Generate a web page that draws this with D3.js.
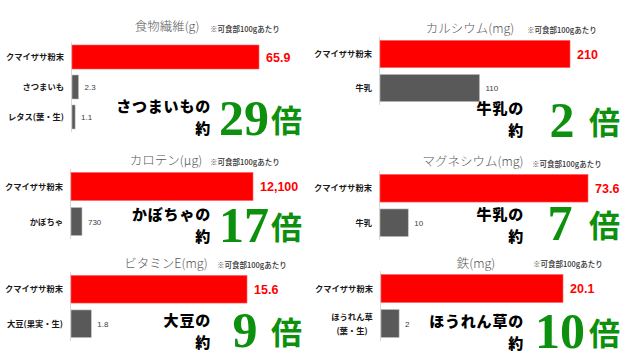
<!DOCTYPE html>
<html><head><meta charset="utf-8">
<script src="https://cdn.jsdelivr.net/npm/d3@7"></script>
<style>
html,body{margin:0;padding:0;background:#fff;}
svg{display:block;}
</style></head>
<body>
<svg id="chart" width="640" height="364"></svg>
<script>
// ---- data ----
const titles = ["食物繊維(g)", "カルシウム(mg)", "カロテン(μg)", "マグネシウム(mg)", "ビタミンE(mg)", "鉄(mg)"];
const categories = [
  ["クマイザサ粉末", "さつまいも", "レタス(葉・生)"],
  ["クマイザサ粉末", "牛乳"],
  ["クマイザサ粉末", "かぼちゃ"],
  ["クマイザサ粉末", "牛乳"],
  ["クマイザサ粉末", "大豆(果実・生)"],
  ["クマイザサ粉末", "ほうれん草\n(葉・生)"]
];
const values = [
  [65.9, 2.3, 1.1],
  [210, 110],
  [12100, 730],
  [73.6, 10],
  [15.6, 1.8],
  [20.1, 2]
];
const compareNames = ["さつまいもの", "牛乳の", "かぼちゃの", "牛乳の", "大豆の", "ほうれん草の"];
const multiples = ["29", "2", "17", "7", "9", "10"];
const noteText = "※可食部100gあたり";
const aboutText = "約";
const timesText = "倍";

// ---- layout (positions only) ----
const layout = [
  {ax:72,  y0:42,  y1:132, w:187, tx:167, ty:31,  nx:210, ny:32,  cx:211, cy:112, numX:244, numY:135, baiX:302},
  {ax:380, y0:37,  y1:105, w:190, tx:470, ty:33,  nx:527, ny:33,  cx:524, cy:114, numX:562, numY:137, baiX:620},
  {ax:71,  y0:169, y1:239, w:182, tx:166, ty:165, nx:210, ny:165, cx:211, cy:220, numX:244, numY:242, baiX:302},
  {ax:380, y0:171, y1:240, w:208, tx:473, ty:166, nx:532, ny:167, cx:524, cy:220, numX:560, numY:240, baiX:620},
  {ax:71,  y0:272, y1:341, w:176, tx:166, ty:268, nx:217, ny:268, cx:211, cy:326, numX:245, numY:347, baiX:302},
  {ax:381, y0:271, y1:341, w:182, tx:476, ty:268, nx:533, ny:267, cx:524, cy:327, numX:560, numY:348, baiX:620}
];

const svg = d3.select("#chart");
const fmt = d3.format(",");
const sans = "'Noto Sans CJK JP','Noto Sans',sans-serif";

layout.forEach((L, i) => {
  const g = svg.append("g");
  const vals = values[i];
  const cats = categories[i];
  const x = d3.scaleLinear().domain([0, d3.max(vals)]).range([L.ax, L.ax + L.w]);
  const y = d3.scaleBand().domain(cats).range([L.y0, L.y1]).paddingInner(0.2).paddingOuter(0.1);

  // title + note
  g.append("text").attr("x", L.tx).attr("y", L.ty).attr("text-anchor", "middle")
    .attr("font-family", sans).attr("font-size", 12.5).attr("font-weight", 300)
    .attr("fill", "#595959").text(titles[i]);
  g.append("text").attr("x", L.nx).attr("y", L.ny)
    .attr("font-family", sans).attr("font-size", 7.5).attr("font-weight", 500)
    .attr("fill", "#333").text(noteText);

  // axis line
  const axis = d3.axisLeft(y).tickSize(2).tickFormat("");
  const ag = g.append("g").attr("transform", `translate(${L.ax - 0.5},0)`).call(axis);
  ag.select(".domain").attr("stroke", "#d9d9d9").attr("d", `M0,${L.y0}V${L.y1}`);
  ag.selectAll(".tick line").attr("stroke", "none");

  // bars
  g.selectAll("rect.bar").data(vals).join("rect")
    .attr("x", x(0)).attr("y", (d, j) => y(cats[j]))
    .attr("width", d => x(d) - x(0)).attr("height", y.bandwidth())
    .attr("fill", (d, j) => j === 0 ? "#ff0000" : "#595959")
    .attr("stroke", (d, j) => j === 0 ? "#ff6060" : "#bfbfbf").attr("stroke-width", 0.6);

  // value labels
  g.selectAll("text.val").data(vals).join("text")
    .attr("x", d => x(d) + (d === vals[0] ? 7 : 6))
    .attr("y", (d, j) => y(cats[j]) + y.bandwidth() / 2 + (j === 0 ? 4.5 : 3))
    .attr("font-family", "'Liberation Sans',Arial,sans-serif")
    .attr("font-size", (d, j) => j === 0 ? 12.5 : 8)
    .attr("font-weight", (d, j) => j === 0 ? "bold" : "normal")
    .attr("fill", (d, j) => j === 0 ? "#ff0000" : "#404040")
    .text(d => fmt(d));

  // category labels
  cats.forEach((c, j) => {
    const lines = c.split("\n");
    const cyMid = y(c) + y.bandwidth() / 2;
    const t = g.append("text").attr("font-family", sans).attr("font-size", 8.3)
      .attr("font-weight", 700).attr("fill", "#1a1a1a");
    if (lines.length === 1) {
      t.attr("x", L.ax - 8).attr("y", cyMid + 3).attr("text-anchor", "end").text(c);
    } else {
      t.attr("text-anchor", "middle");
      lines.forEach((ln, k) => {
        t.append("tspan").attr("x", L.ax - 29).attr("y", cyMid + 3 + (k - (lines.length - 1) / 2) * 14).text(ln);
      });
    }
  });

  // comparison text
  g.append("text").attr("x", L.cx).attr("y", L.cy).attr("text-anchor", "end")
    .attr("font-family", sans).attr("font-size", 15).attr("font-weight", 900)
    .attr("letter-spacing", 0.8).attr("fill", "#000").text(compareNames[i]);
  g.append("text").attr("x", L.cx).attr("y", L.cy + 22).attr("text-anchor", "end")
    .attr("font-family", sans).attr("font-size", 15).attr("font-weight", 900)
    .attr("letter-spacing", 0.8).attr("fill", "#000").text(aboutText);

  g.append("text").attr("x", L.numX).attr("y", L.numY).attr("text-anchor", "middle")
    .attr("font-family", "'Liberation Serif','DejaVu Serif',serif").attr("font-size", 50)
    .attr("font-weight", "bold").attr("fill", "#0d900d").text(multiples[i]);
  g.append("text").attr("x", L.baiX).attr("y", L.numY - 3).attr("text-anchor", "end")
    .attr("font-family", sans).attr("font-size", 31).attr("font-weight", 700)
    .attr("fill", "#0d900d").text(timesText);
});
</script>
</body></html>
